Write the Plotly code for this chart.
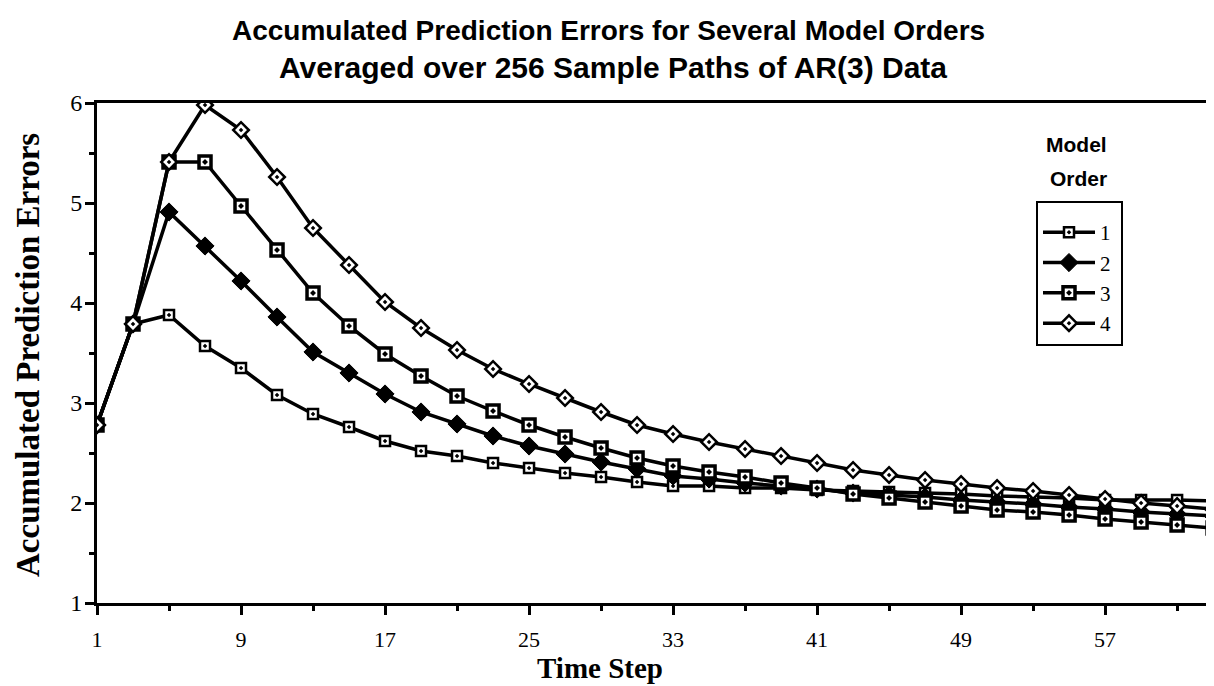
import plotly.graph_objects as go

time_steps = list(range(1, 64, 2))

order1 = [2.78, 3.79, 3.88, 3.57, 3.35, 3.08, 2.89, 2.76, 2.62, 2.52, 2.47, 2.40, 2.35, 2.30, 2.26, 2.21,
          2.17, 2.17, 2.15, 2.15, 2.13, 2.12, 2.11, 2.10, 2.09, 2.07, 2.06, 2.05, 2.03, 2.03, 2.03, 2.02]
order2 = [2.78, 3.79, 4.91, 4.57, 4.22, 3.86, 3.51, 3.30, 3.09, 2.91, 2.79, 2.67, 2.57, 2.49, 2.41, 2.34,
          2.27, 2.24, 2.20, 2.17, 2.14, 2.10, 2.08, 2.06, 2.03, 2.01, 1.99, 1.96, 1.94, 1.91, 1.89, 1.87]
order3 = [2.78, 3.79, 5.41, 5.41, 4.97, 4.53, 4.10, 3.77, 3.49, 3.27, 3.07, 2.92, 2.78, 2.66, 2.55, 2.45,
          2.37, 2.31, 2.26, 2.20, 2.15, 2.09, 2.05, 2.01, 1.97, 1.93, 1.91, 1.88, 1.84, 1.81, 1.78, 1.75]
order4 = [2.78, 3.79, 5.41, 5.98, 5.73, 5.26, 4.75, 4.38, 4.01, 3.75, 3.53, 3.34, 3.19, 3.05, 2.91, 2.78,
          2.69, 2.61, 2.54, 2.47, 2.40, 2.33, 2.28, 2.23, 2.19, 2.15, 2.12, 2.08, 2.04, 2.00, 1.97, 1.94]

series_names = ["1", "2", "3", "4"]
x_ticks = [1, 9, 17, 25, 33, 41, 49, 57]
y_ticks = [1, 2, 3, 4, 5, 6]

SERIF = "Liberation Serif"
SANS = "Liberation Sans"

# page body has an 8px margin: figure occupies x 8..1214, y 8..686
OFF = 8
L, T, B = 97, 103, 603          # plot area in window pixels
PW, PH = 1214 - L, B - T


def px(xw):
    return (xw - L) / PW


def py(yw):
    return (B - yw) / PH


styles = [
    dict(symbol="square-dot", size=10, color="white", lw=2.5),
    dict(symbol="diamond", size=14, color="black", lw=1),
    dict(symbol="square-dot", size=12, color="white", lw=3.5),
    dict(symbol="diamond-dot", size=12, color="white", lw=2.5),
]

fig = go.Figure()
for name, vals, st in zip(series_names, [order1, order2, order3, order4], styles):
    fig.add_trace(go.Scatter(
        x=time_steps, y=vals, name=name + "\u00a0", mode="lines+markers",
        line=dict(color="black", width=3.5),
        marker=dict(symbol=st["symbol"], size=st["size"], color=st["color"],
                    line=dict(color="black", width=st["lw"])),
    ))

fig.update_layout(
    width=1214 - OFF, height=686 - OFF,
    margin=dict(l=L - OFF, r=0, t=T - OFF, b=686 - B),
    paper_bgcolor="white", plot_bgcolor="white",
    showlegend=True,
    legend=dict(
        x=px(1036), y=py(201), xanchor="left", yanchor="top",
        bordercolor="black", borderwidth=2, bgcolor="white",
        font=dict(family=SERIF, size=21, color="black"),
        title=dict(text="\u00a0", font=dict(size=7)),
        itemwidth=52, tracegroupgap=0,
    ),
    annotations=[
        dict(text="<b>Accumulated Prediction Errors for Several Model Orders</b>",
             xref="paper", yref="paper", x=px(608), y=py(30),
             xanchor="center", yanchor="middle", showarrow=False,
             font=dict(family=SANS, size=28, color="black")),
        dict(text="<b>Averaged over 256 Sample Paths of AR(3) Data</b>",
             xref="paper", yref="paper", x=px(613), y=py(68),
             xanchor="center", yanchor="middle", showarrow=False,
             font=dict(family=SANS, size=30, color="black")),
        dict(text="<b>Accumulated Prediction Errors</b>",
             xref="paper", yref="paper", x=px(28), y=py(355),
             xanchor="center", yanchor="middle", showarrow=False, textangle=-90,
             font=dict(family=SERIF, size=33, color="black")),
        dict(text="<b>Time Step</b>",
             xref="paper", yref="paper", x=px(600), y=py(668),
             xanchor="center", yanchor="middle", showarrow=False,
             font=dict(family=SERIF, size=29, color="black")),
        dict(text="<b>Model</b>",
             xref="paper", yref="paper", x=px(1076), y=py(145),
             xanchor="center", yanchor="middle", showarrow=False,
             font=dict(family=SANS, size=21, color="black")),
        dict(text="<b>Order</b>",
             xref="paper", yref="paper", x=px(1078), y=py(178),
             xanchor="center", yanchor="middle", showarrow=False,
             font=dict(family=SANS, size=21, color="black")),
    ],
)

fig.update_xaxes(
    range=[1, 63.05], tickvals=x_ticks, ticktext=[str(v) for v in x_ticks],
    showgrid=False, zeroline=False,
    showline=True, linecolor="black", linewidth=3, mirror=True,
    ticks="outside", ticklen=9, tickwidth=3, tickcolor="black",
    minor=dict(tickvals=[5, 13, 21, 29, 37, 45, 53, 61], ticks="outside", ticklen=5,
               tickwidth=3, tickcolor="black"),
    tickfont=dict(family=SERIF, size=22, color="black"),
    ticklabelstandoff=6,
)
fig.update_yaxes(
    range=[1, 6], tickvals=y_ticks, ticktext=[str(v) for v in y_ticks],
    showgrid=False, zeroline=False,
    showline=True, linecolor="black", linewidth=3,
    ticks="outside", ticklen=9, tickwidth=3, tickcolor="black",
    minor=dict(tickvals=[1.5, 2.5, 3.5, 4.5, 5.5], ticks="outside", ticklen=5,
               tickwidth=3, tickcolor="black"),
    tickfont=dict(family=SERIF, size=24, color="black"),
    ticklabelstandoff=-2,
)

fig.write_html("out.html")
